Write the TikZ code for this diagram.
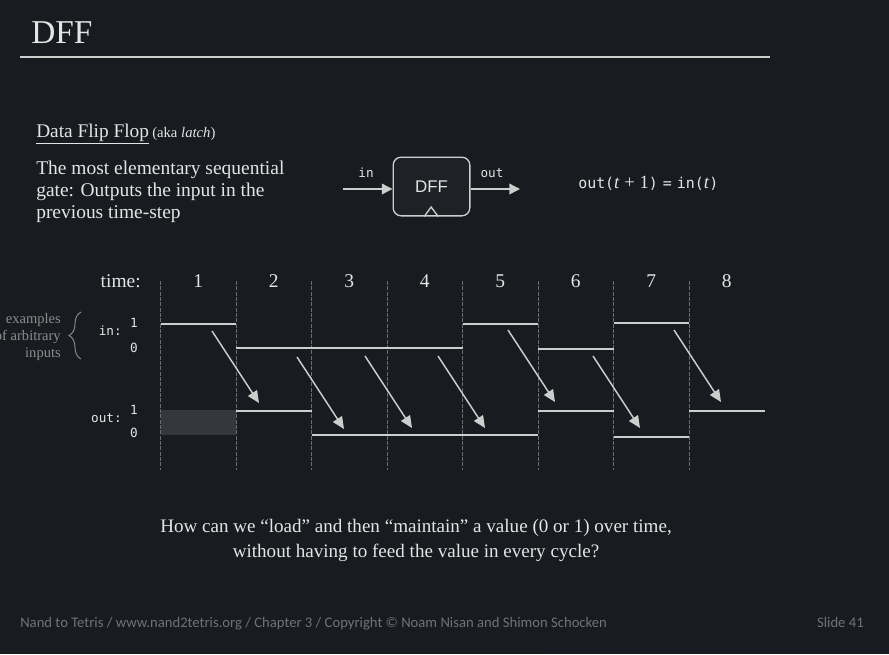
\documentclass[tikz,border=0pt]{standalone}
\usepackage{fontspec}
\setmainfont{Liberation Serif}
\setsansfont{Liberation Sans}
\setmonofont{DejaVu Sans Mono}
\newfontfamily\footfont{Carlito}
\usetikzlibrary{arrows.meta,decorations.pathreplacing}
\definecolor{slidebg}{RGB}{24,27,31}
\definecolor{ink}{RGB}{228,228,228}
\definecolor{wave}{RGB}{205,205,205}
\definecolor{tick}{RGB}{105,108,112}
\definecolor{note}{RGB}{140,140,140}
\definecolor{foot}{RGB}{112,114,118}
\definecolor{undef}{RGB}{52,55,59}
\definecolor{boxfill}{RGB}{30,33,37}
\definecolor{strip}{RGB}{26,28,35}
\newcommand{\fs}[2]{\fontsize{#1}{#2}\selectfont}
\newcommand{\tvar}{{\rmfamily\fs{14}{15}\textit{t}}}

\begin{document}
\begin{tikzpicture}[x=0.75pt,y=-0.75pt,
  txt/.style={text=ink,inner sep=0pt},
  mono/.style={txt,font=\ttfamily\fs{9.5}{11}},
  level/.style={draw=wave,line width=1.5pt},
  tickline/.style={draw=tick,line width=0.6pt,dash pattern=on 3pt off 1pt},
  passarrow/.style={draw=wave,line width=1.1pt,-{Triangle[length=9pt,width=8pt]}},
  sigarrow/.style={draw=wave,line width=1.1pt,-{Triangle[length=8pt,width=8pt]}}]
\useasboundingbox (0,0) rectangle (889,654);
\fill[slidebg] (0,0) rectangle (889,654);
\fill[strip] (547,636) rectangle (889,654);

% title
\node (title) [txt,anchor=base west,font=\fs{25}{30}] at (31,43.5) {DFF};
\draw[wave,line width=1.5pt] (19.5,56.5) -- (770,56.5);

% description (base = last line)
\node (name) [txt,anchor=base west,font=\fs{14.5}{17}] at (36,137)
  {\underline{Data Flip Flop}\,{\fs{11}{13}(aka \textit{latch})}};
\node (descr) [txt,anchor=base west,align=left,font=\fs{14.6}{16.5}] at (36,218)
  {The most elementary sequential\\gate: Outputs the input in the\\previous time-step};

% the gate
\node (dff) [draw=wave,line width=1pt,fill=boxfill,rounded corners=6pt,
  minimum width=57.5pt,minimum height=44pt,text=ink,font=\sffamily\fs{12.7}{14}]
  at (431.5,186.5) {DFF};
\draw[wave,line width=1pt] ([xshift=-5.5pt]dff.south) -- ++(7,-9.5) -- ++(7,9.5);
\coordinate (gatein) at (343,189);
\coordinate (gateout) at (520,189);
\draw[sigarrow] (gatein) -- (gatein -| dff.west);
\draw[sigarrow] (gateout -| dff.east) -- (gateout);
\node (inlab) [mono,anchor=base] at (366,177) {in};
\node (outlab) [mono,anchor=base] at (492,177) {out};
\node (rule) [txt,anchor=base west,font=\ttfamily\fs{11.2}{13}] at (578,188)
  {out(\tvar{\rmfamily\fs{14}{15}\ +\ 1})\,\,=\,\,in(\tvar)};

% time axis
\node (timelab) [txt,anchor=base east,font=\fs{14.6}{17}] at (141,287) {time:};
\foreach \i in {1,...,8} {
  \pgfmathsetmacro{\xa}{160.5+75.5*(\i-1)}
  \draw[tickline] (\xa,281) -- (\xa,470);
  \node (t\i) [txt,anchor=base,font=\fs{14.6}{17}] at (\xa+37.75,287) {\i};
}

% in / out labels
\node (ex) [txt,text=note,anchor=base east,align=right,font=\fs{10.9}{12.75}] at (61,357)
  {examples\\of arbitrary\\inputs};
\draw[note,line width=0.7pt,decorate,decoration={brace,amplitude=9pt}] (81,359) -- (81,312);
\node (inname) [mono,anchor=base east] at (122,335) {in:};
\node (in1) [mono,anchor=base] at (134,327) {1};
\node (in0) [mono,anchor=base] at (134,352) {0};
\node (outname) [mono,anchor=base east] at (122,422) {out:};
\node (out1) [mono,anchor=base] at (134,414) {1};
\node (out0) [mono,anchor=base] at (134,437) {0};

% in waveform
\draw[level] (160.5,323.5) -- (236,323.5);
\draw[level] (236,348) -- (462.5,348);
\draw[level] (462.5,323.5) -- (538,323.5);
\draw[level] (538,349) -- (613.5,349);
\draw[level] (613.5,323) -- (689,323);

% out waveform
\fill[undef] (160.5,410) rectangle (236,434.5);
\draw[level] (236,411) -- (311.5,411);
\draw[level] (311.5,434.5) -- (538,434.5);
\draw[level] (538,410.5) -- (613.5,410.5);
\draw[level] (613.5,437) -- (689,437);
\draw[level] (689,410.5) -- (765,410.5);

% in(t) -> out(t+1)
\foreach \sx/\sy in {212/331,297/357,365/356,438/356,508/330,593/356,674/330}
  \draw[passarrow] (\sx,\sy) -- ++(47,72);

% question (base = last line)
\node (question) [txt,anchor=base,align=center,font=\fs{14.3}{18.75}] at (416,557)
  {How can we “load” and then “maintain” a value (0 or 1) over time,\\
   without having to feed the value in every cycle?};

% footer
\node (footer) [anchor=base west,inner sep=0pt,text=foot,font=\footfont\fs{11}{12}] at (20,627)
  {Nand to Tetris / www.nand2tetris.org / Chapter 3 / Copyright © Noam Nisan and Shimon Schocken};
\node (slide) [anchor=base east,inner sep=0pt,text=foot,font=\footfont\fs{11}{12}] at (864,627)
  {Slide 41};
\end{tikzpicture}
\end{document}
